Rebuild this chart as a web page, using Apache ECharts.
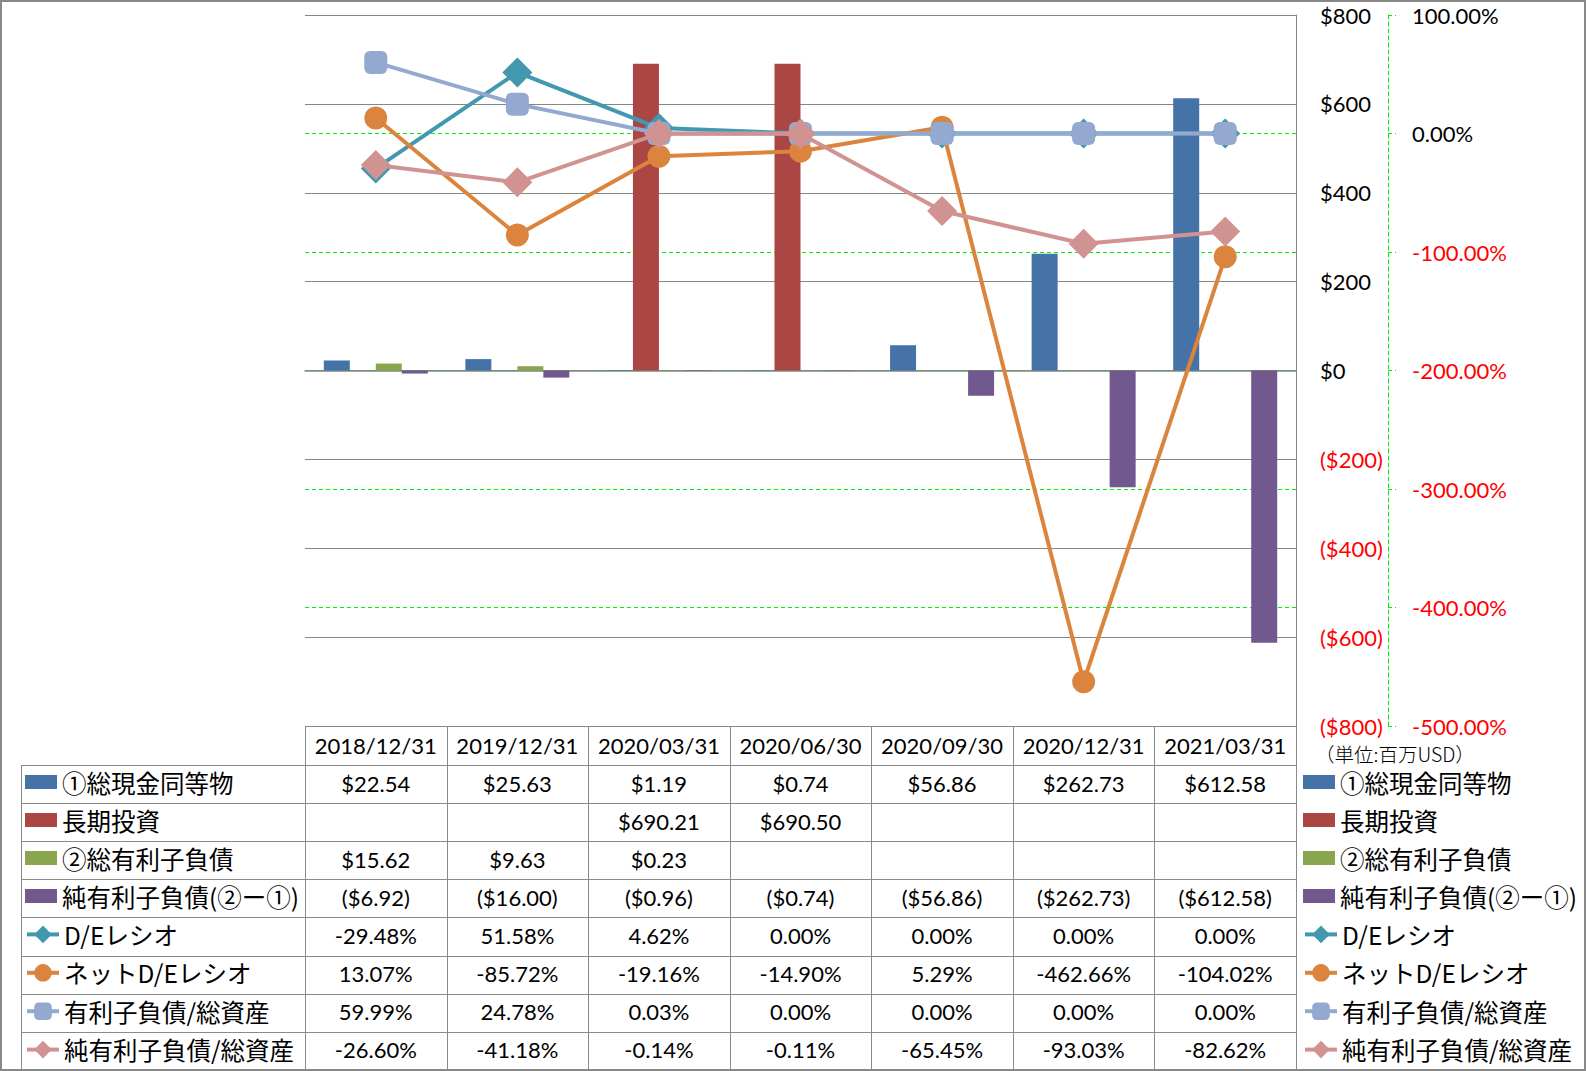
<!DOCTYPE html>
<html><head><meta charset="utf-8">
<script src="https://cdn.jsdelivr.net/npm/echarts@6/dist/echarts.min.js"></script>
<style>html,body{margin:0;padding:0;background:#fff}#c{width:1586px;height:1071px}</style>
</head><body><div id="c"></div>
<script>
const categories = ['2018/12/31','2019/12/31','2020/03/31','2020/06/30','2020/09/30','2020/12/31','2021/03/31'];
const barNames = ['①総現金同等物','長期投資','②総有利子負債','純有利子負債(②ー①)'];
const lineNames = ['D/Eレシオ','ネットD/Eレシオ','有利子負債/総資産','純有利子負債/総資産'];
const cash = [22.54, 25.63, 1.19, 0.74, 56.86, 262.73, 612.58];
const longInv = [null, null, 690.21, 690.50, null, null, null];
const debt = [15.62, 9.63, 0.23, null, null, null, null];
const netDebt = [-6.92, -16.00, -0.96, -0.74, -56.86, -262.73, -612.58];
const deRatio = [-29.48, 51.58, 4.62, 0.00, 0.00, 0.00, 0.00];
const netDeRatio = [13.07, -85.72, -19.16, -14.90, 5.29, -462.66, -104.02];
const debtToAssets = [59.99, 24.78, 0.03, 0.00, 0.00, 0.00, 0.00];
const netDebtToAssets = [-26.60, -41.18, -0.14, -0.11, -65.45, -93.03, -82.62];
const unitLabel = '（単位:百万USD）';

const barColors = ['#4572A7','#AA4643','#89A54E','#71588F'];
const lineColors = ['#4198AF','#DB843D','#93A9CF','#D19392'];
const GRID = '#868686', GREEN = '#00ee00';
const LAT = 'Lato, "Noto Sans", sans-serif';
const JP = '"Noto Sans CJK JP", sans-serif';

const money = v => v == null ? '' : (v < 0 ? '($' + Math.abs(v).toFixed(2) + ')' : '$' + v.toFixed(2));
const pct = v => v == null ? '' : v.toFixed(2) + '%';

const chart = echarts.init(document.getElementById('c'), null, {renderer: 'svg'});

const barData = [cash, longInv, debt, netDebt];
const lineData = [deRatio, netDeRatio, debtToAssets, netDebtToAssets];
const symbols = ['diamond', 'circle', 'roundRect', 'diamond'];
const symSizes = [30, 23, 23, 30];

const series = [];
barNames.forEach((n, i) => series.push({
  name: n, type: 'bar', yAxisIndex: 0, data: barData[i], barWidth: 26, barGap: '0%',
  itemStyle: {color: barColors[i]}, z: 2
}));
lineNames.forEach((n, i) => series.push({
  name: n, type: 'line', yAxisIndex: 1, data: lineData[i], symbol: symbols[i], symbolSize: symSizes[i],
  lineStyle: {color: lineColors[i], width: 4}, itemStyle: {color: lineColors[i]}, z: 3 + i
}));

const ROW_TOP = 765, ROW_H = 38.1;
const txt = {fontSize: 24.5, lineHeight: 38, color: '#000', fontFamily: JP};
function legends(left) {
  return [
    {orient: 'vertical', left: left, top: ROW_TOP - 2, itemGap: 0, padding: 0, itemWidth: 32, itemHeight: 14,
     selectedMode: false, data: barNames.map(n => ({name: n, icon: 'rect'})), textStyle: txt},
    {orient: 'vertical', left: left, top: ROW_TOP + ROW_H * 4 - 2, itemGap: 0.4, padding: 0, itemWidth: 32, itemHeight: 22,
     selectedMode: false, data: lineNames, textStyle: txt, lineStyle: {width: 4}}
  ];
}

chart.setOption({
  animation: false,
  grid: {left: 305, right: 290, top: 15, bottom: 345, outerBoundsMode: 'none', containLabel: false},
  legend: legends(25).concat(legends(1303)),
  xAxis: {
    type: 'category', data: categories, boundaryGap: true,
    axisLine: {show: true, lineStyle: {color: GRID, width: 1.5}},
    axisTick: {show: false}, axisLabel: {show: false}
  },
  yAxis: [
    {
      type: 'value', position: 'right', min: -800, max: 800, interval: 200,
      axisLine: {show: true, lineStyle: {color: GRID, width: 1}},
      axisTick: {show: false},
      splitLine: {show: true, lineStyle: {color: GRID, width: 1}},
      axisLabel: {margin: 24, fontSize: 22, fontFamily: LAT,
        formatter: v => v < 0 ? '($' + Math.abs(v) + ')' : '$' + v,
        color: v => Number(v) < 0 ? '#ff0000' : '#000'}
    },
    {
      type: 'value', position: 'right', offset: 92, min: -500, max: 100, interval: 100,
      axisLine: {show: true, lineStyle: {color: GREEN, width: 1, type: [4, 3]}},
      axisTick: {show: true, inside: false, length: 8, lineStyle: {color: GREEN, type: [4, 3]}},
      splitLine: {show: true, showMinLine: false, showMaxLine: false, lineStyle: {color: GREEN, width: 1, type: [4, 3]}},
      axisLabel: {margin: 24, fontSize: 22, fontFamily: LAT,
        formatter: v => Number(v).toFixed(2) + '%',
        color: v => Number(v) < 0 ? '#ff0000' : '#000'}
    }
  ],
  series: series
});

// Data table below the plot
const c0 = chart.convertToPixel({xAxisIndex: 0}, 0);
const c1 = chart.convertToPixel({xAxisIndex: 0}, 1);
const colW = c1 - c0;
const tableLeft = c0 - colW / 2;
const tableRight = tableLeft + colW * categories.length;
const headTop = chart.convertToPixel({yAxisIndex: 0}, -800);
const labelLeft = 21;
const nRows = 8;
const tableBottom = ROW_TOP + ROW_H * nRows;
const LC = '#8a8a8a';
const g = [];
for (let k = 0; k <= categories.length; k++) {
  const x = Math.round(tableLeft + k * colW) + 0.5;
  g.push({type: 'line', shape: {x1: x, y1: headTop, x2: x, y2: tableBottom}, style: {stroke: LC, lineWidth: 1}, silent: true});
}
g.push({type: 'line', shape: {x1: labelLeft + 0.5, y1: ROW_TOP, x2: labelLeft + 0.5, y2: tableBottom}, style: {stroke: LC, lineWidth: 1}});
for (let r = 0; r <= nRows; r++) {
  const y = Math.round(ROW_TOP + r * ROW_H) + 0.5;
  g.push({type: 'line', shape: {x1: labelLeft, y1: y, x2: tableRight, y2: y}, style: {stroke: LC, lineWidth: 1}});
}
categories.forEach((cat, i) => {
  const cx = chart.convertToPixel({xAxisIndex: 0}, i);
  g.push({type: 'text', x: cx, y: (headTop + ROW_TOP) / 2,
    style: {text: cat, fill: '#000', font: '22px ' + LAT, align: 'center', verticalAlign: 'middle'}});
});
const rowVals = [cash.map(money), longInv.map(money), debt.map(money), netDebt.map(money),
  deRatio.map(pct), netDeRatio.map(pct), debtToAssets.map(pct), netDebtToAssets.map(pct)];
rowVals.forEach((vals, r) => {
  vals.forEach((t, i) => {
    if (!t) return;
    const cx = chart.convertToPixel({xAxisIndex: 0}, i);
    g.push({type: 'text', x: cx, y: ROW_TOP + ROW_H * (r + 0.5) - 1,
      style: {text: t, fill: '#000', font: '22px ' + LAT, align: 'center', verticalAlign: 'middle'}});
  });
});
g.push({type: 'text', x: 1315, y: 753,
  style: {text: unitLabel, fill: '#000', font: '300 19.5px ' + JP, align: 'left', verticalAlign: 'middle'}});
g.push({type: 'rect', shape: {x: 1, y: 1, width: 1584, height: 1069}, style: {fill: 'none', stroke: '#888', lineWidth: 2}, silent: true});
chart.setOption({graphic: g});
</script></body></html>
